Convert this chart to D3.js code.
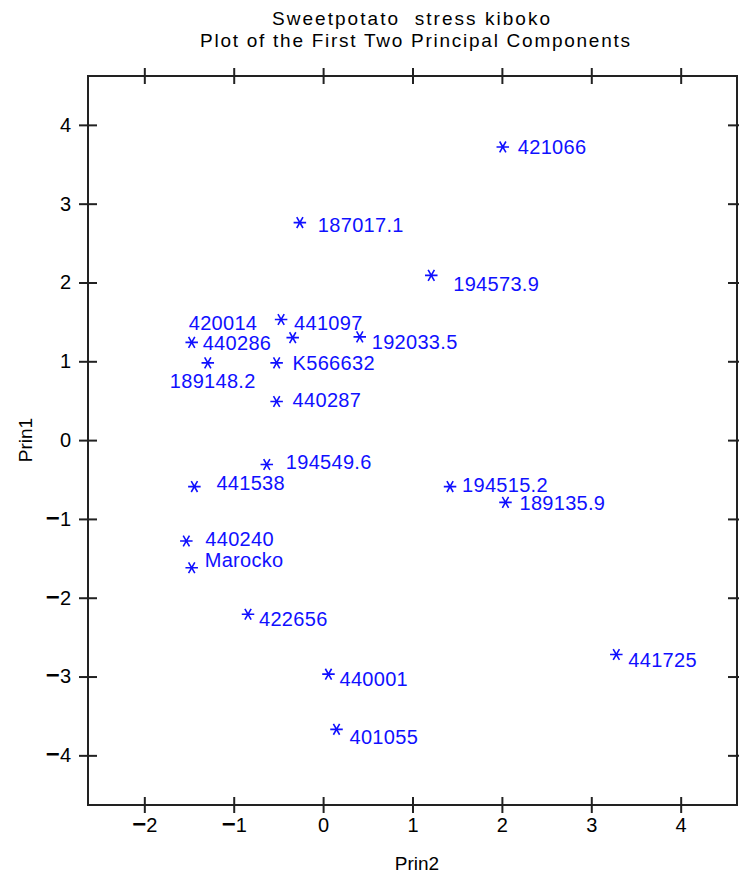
<!DOCTYPE html>
<html>
<head>
<meta charset="utf-8">
<script src="https://cdn.jsdelivr.net/npm/d3@7"></script>
<style>
  html, body { margin: 0; padding: 0; background: #fff; }
  svg { display: block; font-family: "Liberation Sans", Arial, sans-serif; }
  .title { white-space: pre; }
</style>
</head>
<body>
<svg id="pca" width="739" height="883"></svg>
<script>

const titleLines = ['Sweetpotato  stress kiboko', 'Plot of the First Two Principal Components'];

const names = [
  '421066', '187017.1', '194573.9', '441097', '440286', '420014', '192033.5',
  '189148.2', 'K566632', '440287', '194549.6', '441538', '194515.2', '189135.9',
  '440240', 'Marocko', '422656', '441725', '440001', '401055'
];

// Prin2 (horizontal)
const prin2 = [
  2.01, -0.26, 1.21, -0.47, -1.47, -0.34, 0.41,
  -1.29, -0.52, -0.52, -0.63, -1.44, 1.42, 2.04,
  -1.53, -1.47, -0.84, 3.28, 0.06, 0.15
];

// Prin1 (vertical)
const prin1 = [
  3.72, 2.76, 2.09, 1.53, 1.24, 1.30, 1.31,
  0.98, 0.98, 0.49, -0.31, -0.59, -0.59, -0.79,
  -1.28, -1.62, -2.21, -2.72, -2.97, -3.67
];

const xTicks = [-2, -1, 0, 1, 2, 3, 4];
const yTicks = [-4, -3, -2, -1, 0, 1, 2, 3, 4];

// label nudges (px) from the star to the left/middle of its label
const labelNudge = {
  '421066': [15, 0], '187017.1': [18, 2], '194573.9': [22, 8], '441097': [13, 3],
  '440286': [11, 0], '420014': [-104, -15], '192033.5': [12, 5], '189148.2': [-38, 18],
  'K566632': [16, 0], '440287': [16, -2], '194549.6': [19, -3], '441538': [22, -4],
  '194515.2': [12, -2], '189135.9': [14, 0], '440240': [19, -2], 'Marocko': [13, -8],
  '422656': [11, 5], '441725': [12, 5], '440001': [11, 5], '401055': [13, 7]
};

const frame = { left: 88, top: 76, right: 737, bottom: 805 };
const tick = 8;

const x = d3.scaleLinear().domain([-2.63, 4.63]).range([frame.left, frame.right]);
const y = d3.scaleLinear().domain([-4.63, 4.62]).range([frame.bottom, frame.top]);

const svg = d3.select('#pca');

// Title
svg.append('g')
  .selectAll('text')
  .data(titleLines)
  .enter()
    .append('text')
      .classed('title', true)
      .attr('x', (d, i) => i === 0 ? 411 : 415)
      .attr('y', (d, i) => i === 0 ? 25 : 47)
      .attr('text-anchor', 'middle')
      .attr('font-size', 19)
      .attr('textLength', (d, i) => i === 0 ? 278 : 430)
      .attr('lengthAdjust', 'spacing')
      .text(d => d);

// Frame
svg.append('rect')
  .attr('x', frame.left)
  .attr('y', frame.top)
  .attr('width', frame.right - frame.left)
  .attr('height', frame.bottom - frame.top)
  .attr('fill', 'none')
  .attr('stroke', '#222')
  .attr('stroke-width', 2);

function styleAxis(g) {
  g.select('.domain').remove();
  g.selectAll('.tick line').attr('stroke', '#222').attr('stroke-width', 2);
  g.selectAll('.tick text')
    .attr('fill', '#000')
    .attr('font-size', 20)
    .attr('font-family', '"Liberation Sans", Arial, sans-serif');
}

// minus drawn as a heavy dash like the reference
function minusLabels(g) {
  g.selectAll('.tick text').each(function (d) {
    const t = d3.select(this);
    t.text(null);
    if (d < 0) {
      t.append('tspan').attr('font-weight', 'bold').attr('font-size', 24).text('\u2212');
    }
    t.append('tspan').text(Math.abs(d));
  });
}

// Bottom axis (labels) + inward ticks
svg.append('g')
  .attr('transform', `translate(0,${frame.bottom})`)
  .call(d3.axisBottom(x).tickValues(xTicks).tickSize(tick).tickPadding(5))
  .call(styleAxis)
  .call(minusLabels);
svg.append('g')
  .attr('transform', `translate(0,${frame.bottom})`)
  .call(d3.axisTop(x).tickValues(xTicks).tickSize(tick).tickFormat(''))
  .call(styleAxis);

// Top axis ticks, both sides
svg.append('g')
  .attr('transform', `translate(0,${frame.top})`)
  .call(d3.axisTop(x).tickValues(xTicks).tickSize(tick).tickFormat(''))
  .call(styleAxis);
svg.append('g')
  .attr('transform', `translate(0,${frame.top})`)
  .call(d3.axisBottom(x).tickValues(xTicks).tickSize(tick).tickFormat(''))
  .call(styleAxis);

// Left axis (labels) + inward ticks
svg.append('g')
  .attr('transform', `translate(${frame.left},0)`)
  .call(d3.axisLeft(y).tickValues(yTicks).tickSize(9).tickPadding(8))
  .call(styleAxis)
  .call(minusLabels);
svg.append('g')
  .attr('transform', `translate(${frame.left},0)`)
  .call(d3.axisRight(y).tickValues(yTicks).tickSize(9).tickFormat(''))
  .call(styleAxis);

// Right axis ticks, both sides
svg.append('g')
  .attr('transform', `translate(${frame.right},0)`)
  .call(d3.axisRight(y).tickValues(yTicks).tickSize(9).tickFormat(''))
  .call(styleAxis);
svg.append('g')
  .attr('transform', `translate(${frame.right},0)`)
  .call(d3.axisLeft(y).tickValues(yTicks).tickSize(9).tickFormat(''))
  .call(styleAxis);

// Axis titles
svg.append('text')
  .attr('x', 417)
  .attr('y', 870)
  .attr('text-anchor', 'middle')
  .attr('font-size', 19)
  .text('Prin2');

svg.append('text')
  .attr('transform', `translate(32,${y(0)}) rotate(-90)`)
  .attr('text-anchor', 'middle')
  .attr('font-size', 19)
  .text('Prin1');

// Points
const points = names.map((n, i) => ({ name: n, px: prin2[i], py: prin1[i] }));
const star = d3.symbol().type(d3.symbolAsterisk).size(110);

const pts = svg.append('g')
  .classed('points', true)
  .selectAll('g')
  .data(points)
  .enter()
    .append('g')
      .attr('transform', d => `translate(${x(d.px)},${y(d.py)})`);

pts.append('path')
  .attr('d', star)
  .attr('transform', 'rotate(90)')
  .attr('fill', 'none')
  .attr('stroke', '#1010ff')
  .attr('stroke-width', 1.6);

pts.append('text')
  .attr('x', d => labelNudge[d.name][0])
  .attr('y', d => labelNudge[d.name][1])
  .attr('dy', '0.36em')
  .attr('font-size', 20)
  .attr('letter-spacing', 0.3)
  .attr('fill', '#1010ff')
  .text(d => d.name);

</script>
</body>
</html>
